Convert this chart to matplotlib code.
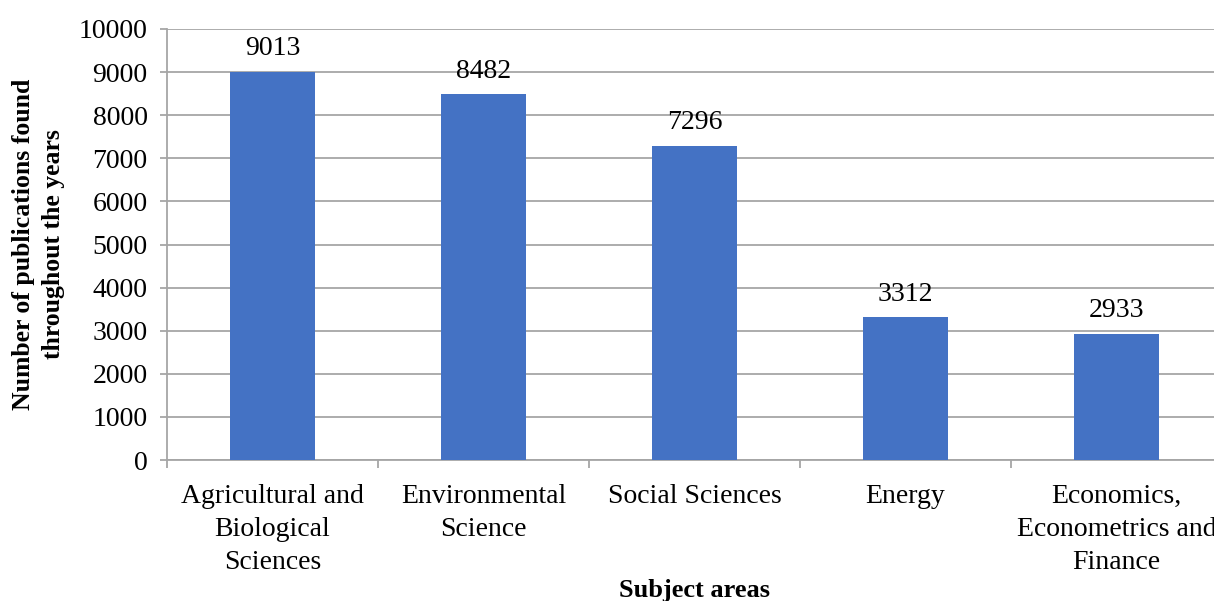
import numpy as np
import matplotlib.pyplot as plt

# Data
categories = ["Agricultural and\nBiological\nSciences", "Environmental\nScience",
              "Social Sciences", "Energy", "Economics,\nEconometrics and\nFinance"]
counts = [9013, 8482, 7296, 3312, 2933]

plt.rcParams['font.family'] = ['Liberation Serif', 'DejaVu Serif']
fs = 20

fig = plt.figure(figsize=(12.14, 6.01), dpi=100)
ax = fig.add_axes([167 / 1214, 141 / 601, 1055 / 1214, 431 / 601])

x = np.arange(len(categories))
ax.bar(x, counts, width=0.4, color="#4472C4", zorder=3)
for xi, v in zip(x, counts):
    ax.text(xi, v + 240, str(v), ha="center", va="bottom", fontsize=fs)

ax.set_xlim(-0.5, len(categories) - 0.5)
ax.set_ylim(0, 10000)
ax.set_yticks(np.arange(0, 10001, 1000))
ax.yaxis.grid(True, color="#A6A6A6", linewidth=1.3, zorder=0)

# category labels centred, ticks at the boundaries
ax.set_xticks(x)
ax.set_xticklabels(categories, fontsize=fs, linespacing=1.42)
ax.tick_params(axis="x", length=0, pad=17)
ax.set_xticks(np.arange(-0.5, len(categories)), minor=True)
ax.tick_params(axis="x", which="minor", length=6, color="#A6A6A6", width=1.3)
ax.tick_params(axis="y", length=5, color="#A6A6A6", width=1.3, labelsize=fs, pad=9)

for s in ["top", "right"]:
    ax.spines[s].set_visible(False)
for s in ["left", "bottom"]:
    ax.spines[s].set_color("#A6A6A6")
    ax.spines[s].set_linewidth(1.3)

ax.set_ylabel("Number of publications found\nthroughout the years", fontsize=18.5,
              fontweight="bold", linespacing=1.35, labelpad=10)
ax.set_xlabel("Subject areas", fontsize=19, fontweight="bold", labelpad=3)

fig.savefig("out.png", dpi=100)
